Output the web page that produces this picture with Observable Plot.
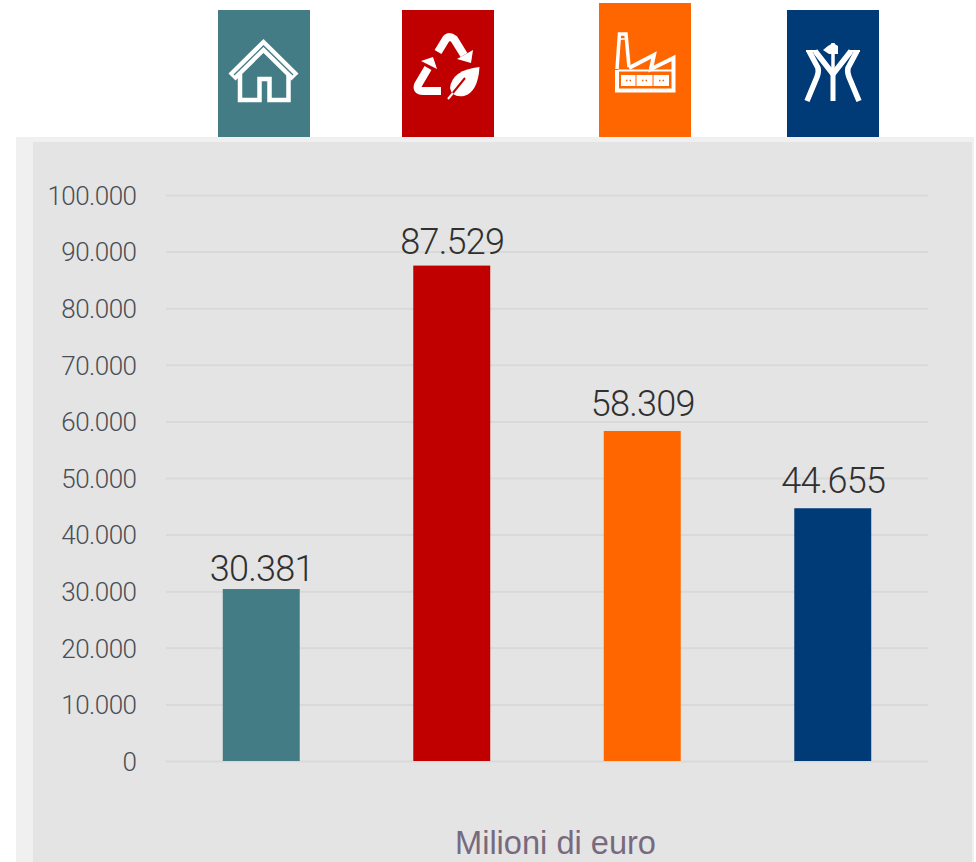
<!DOCTYPE html>
<html><head><meta charset="utf-8">
<script src="https://cdn.jsdelivr.net/npm/d3@7"></script>
<script src="https://cdn.jsdelivr.net/npm/@observablehq/plot@0.6"></script>
<style>
html,body{margin:0;padding:0;background:#fff;}
#stage{position:relative;width:976px;height:862px;overflow:hidden;}
.outer{position:absolute;left:16px;top:137px;width:958px;height:725px;background:#f0f0f0;}
.inner{position:absolute;left:33px;top:142px;width:939px;height:720px;background:#e4e4e4;}
.tile{position:absolute;width:92px;}
.tile svg{position:absolute;left:0;top:0;width:92px;height:100%;}
#chart{position:absolute;left:0;top:0;}
#chart svg{background:transparent!important;}
#chart text{letter-spacing:-.02em;}
#chart g[font-family*="Liberation"] text{letter-spacing:0;}
</style></head><body>
<div id="stage">
<div class="outer"></div><div class="inner"></div>
<div class="tile" style="left:218px;top:10px;height:127px;background:#437c85">
<svg viewBox="0 0 92 127" fill="none" stroke="#fff">
<path d="M14 67 L45.500 36 L77 67" stroke-width="10"/>
<path d="M16 65 L45.500 36 L75 65" stroke-width="1.300" stroke="#437c85"/>
<path d="M22 64 V90 H41.500 V69 H51.500 V90 H70.500 V64" stroke-width="4.500"/>
</svg></div>
<div class="tile" style="left:402px;top:10px;height:127px;background:#c00000">
<svg viewBox="0 0 92 127" fill="none" stroke="#fff">
<path d="M36 42 L44 29 Q47 25 52 29 L62 45" stroke-width="8"/>
<path d="M55 49 L71 40 L69 53 Z" fill="#fff" stroke="none"/>
<path d="M26 58 L16 75 Q14 81 21 81 H39" stroke-width="8"/>
<path d="M19 51 L31 47 L35 59 Z" fill="#fff" stroke="none"/>
<path d="M77.500 57 Q50 60 48 78 Q50 88 62 86 Q76 82 77.500 57 Z" fill="#fff" stroke="none"/>
<path d="M50 84 L63 68" stroke="#c00000" stroke-width="2"/>
<path d="M46 89 L51 83" stroke-width="2"/>
</svg></div>
<div class="tile" style="left:599px;top:3px;height:134px;background:#ff6600">
<svg viewBox="0 0 92 134" fill="none" stroke="#fff">
<path d="M18 66 L20.500 31 H27 L30 64" stroke-width="3.500"/>
<path d="M20 36 H28" stroke-width="1.500"/>
<path d="M18 67 V87.500 H74.500 V55 L52 66 L55 52 L30 65" stroke-width="4"/>
<path d="M19 67.500 H74" stroke-width="2"/>
<path d="M22 72 H70 V83 H22 Z" fill="#fff" stroke="none"/>
<path d="M37 72 V84 M54 72 V84" stroke="#ff6600" stroke-width="1"/>
<path d="M27 77.500 H33 M43 77.500 H49 M60 77.500 H66" stroke="#ff6600" stroke-width="1.500" stroke-dasharray="1.500 2"/>
</svg></div>
<div class="tile" style="left:787px;top:10px;height:127px;background:#003b77">
<svg viewBox="0 0 92 127" fill="none" stroke="#fff">
<path d="M22 41 L31 58 Q32 62 30 67 L20 91" stroke-width="5.500"/>
<path d="M70 41 L61 58 Q60 62 62 67 L72 91" stroke-width="5.500"/>
<path d="M28 41 L46 64 L64 41" stroke-width="5.500"/>
<path d="M46 63 V91" stroke-width="5"/>
<path d="M46 33 V62" stroke-width="3.500"/>
<path d="M36 40 Q40 36 46 33 L51 36 V44 H42 Z" fill="#fff" stroke="none"/>
<path d="M19 41 H31 M61 41 H73" stroke-width="2"/>
</svg></div>
<div id="chart"></div>
</div>
<script>
const categories = ["Abitazioni", "Riciclo", "Industria", "Infrastrutture"];
const values = [30381, 87529, 58309, 44655];
const colors = ["#437c85", "#c00000", "#ff6600", "#003b77"];
const yTicks = [0,10000,20000,30000,40000,50000,60000,70000,80000,90000,100000];
const unitLabel = "Milioni di euro";
const fmt = d => d3.format(",")(d).replace(/,/g, ".");
const rows = categories.map((c,i)=>({c, v:values[i]}));
const font = "Roboto, sans-serif";
const labelLift = [20, 24, 27, 27];
const plot = Plot.plot({
  width: 976, height: 862,
  marginLeft: 166, marginRight: 48, marginTop: 195, marginBottom: 101,
  style: {background:"transparent", fontFamily: font},
  x: {domain: categories, paddingInner: 0.596, paddingOuter: 0.298, round: false, axis: null},
  y: {domain: [0,100000], ticks: yTicks, axis: null},
  color: {domain: categories, range: colors},
  marks: [
    Plot.ruleY(yTicks, {stroke:"#d9d9d9", strokeWidth:2}),
    Plot.axisY(yTicks, {anchor:"left", tickSize:0, tickPadding:30, tickFormat:fmt, label:null, fontSize:26, fontWeight:300, fill:"#4a4e55", dy:1}),
    Plot.barY(rows, {x:"c", y:"v", fill:"c"}),
    ...rows.map((r,i)=>Plot.text([r], {x:"c", y:"v", text:d=>fmt(d.v), dy:-labelLift[i], fontSize:36, fontWeight:300, fill:"#303030", fontFamily:font})),
    Plot.text([unitLabel], {frameAnchor:"bottom", dy:92, dx:8, fontSize:32.6, fill:"#776a7e", fontFamily:"'Liberation Sans', Arial, sans-serif"})
  ]
});
document.getElementById("chart").appendChild(plot);
</script>
</body></html>
